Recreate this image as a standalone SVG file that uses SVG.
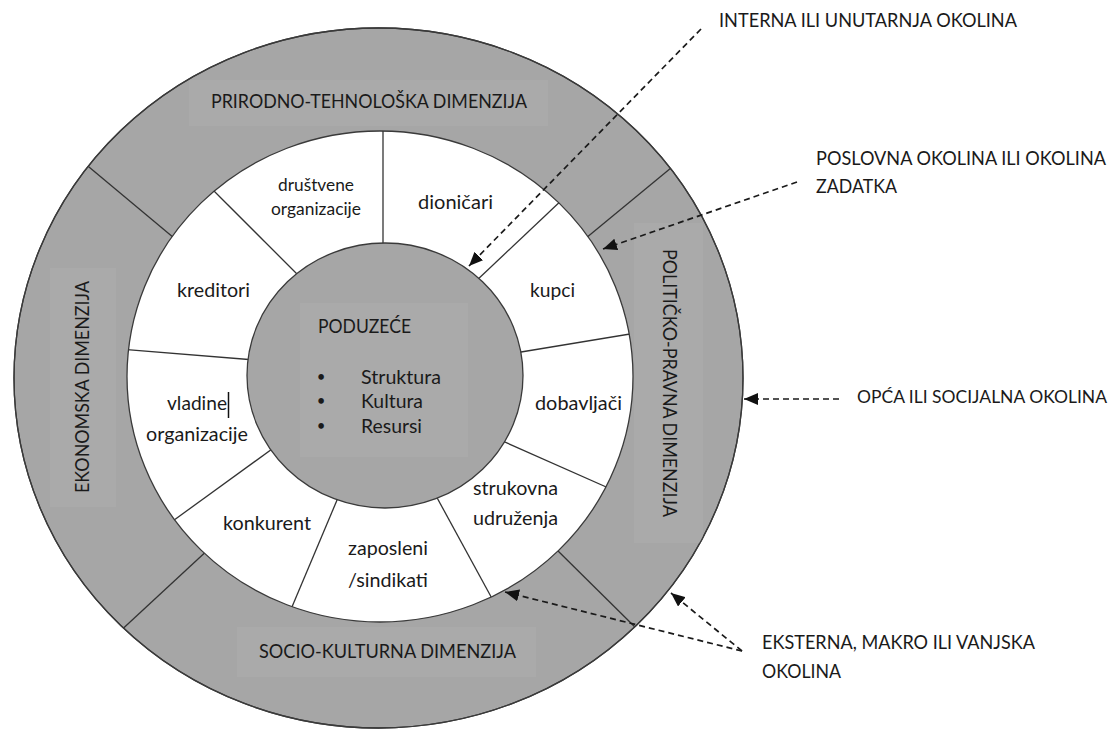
<svg xmlns="http://www.w3.org/2000/svg" width="1119" height="729" viewBox="0 0 1119 729">
<style>
.ring{fill:#a6a6a6;stroke:#3a3a3a;stroke-width:1.3}
.white{fill:#ffffff;stroke:#3a3a3a;stroke-width:1.3}
.lbl{fill:#aaaaaa}
.div{stroke:#333;stroke-width:1.3;fill:none}
text{font-family:Lato,"Liberation Sans",sans-serif;font-size:19px;fill:#1a1a1a}
.sm{font-size:16.6px}
.bul{font-size:15px}
.arr{stroke:#1a1a1a;stroke-width:1.7;stroke-dasharray:6 4;fill:none;marker-end:url(#ah)}
</style>
<defs>
<marker id="ah" markerUnits="userSpaceOnUse" markerWidth="15" markerHeight="12" refX="14" refY="6" orient="auto">
<path d="M0,0 L14,6 L0,12 z" fill="#111"/>
</marker>
<clipPath id="outerClip"><ellipse cx="378.5" cy="378" rx="364.5" ry="350"/></clipPath>
<clipPath id="whiteClip"><ellipse cx="380" cy="376.5" rx="253" ry="245.5"/></clipPath>
</defs>

<g id="outer-ring">
<ellipse class="ring" cx="378.5" cy="378" rx="364.5" ry="350"/>
<g clip-path="url(#outerClip)">
<rect class="lbl" x="189" y="80" width="359" height="46"/>
<rect class="lbl" x="50" y="268" width="66" height="239"/>
<rect class="lbl" x="634" y="223" width="69" height="320"/>
<rect class="lbl" x="237" y="627" width="299" height="50"/>
<g class="div">
<line x1="83" y1="162" x2="180" y2="243"/>
<line x1="677" y1="163" x2="580" y2="243"/>
<line x1="116" y1="635" x2="211" y2="547"/>
<line x1="642" y1="634" x2="553" y2="546"/>
</g>
</g>
<ellipse cx="378.5" cy="378" rx="364.5" ry="350" fill="none" stroke="#3a3a3a" stroke-width="1.3"/>
</g>

<g id="dim-prirodno"><text x="211" y="108" textLength="316" lengthAdjust="spacingAndGlyphs">PRIRODNO-TEHNOLOŠKA DIMENZIJA</text></g>
<g id="dim-ekonomska"><text transform="translate(89,493) rotate(-90)" x="0" y="0" textLength="212" lengthAdjust="spacingAndGlyphs">EKONOMSKA DIMENZIJA</text></g>
<g id="dim-politicko"><text transform="translate(663,249) rotate(90)" x="0" y="0" textLength="268" lengthAdjust="spacingAndGlyphs">POLITIČKO-PRAVNA DIMENZIJA</text></g>
<g id="dim-socio"><text x="259" y="658" textLength="257" lengthAdjust="spacingAndGlyphs">SOCIO-KULTURNA DIMENZIJA</text></g>

<g id="business-ring">
<ellipse class="white" cx="380" cy="376.5" rx="253" ry="245.5"/>
<g class="div" clip-path="url(#whiteClip)">
<line x1="383" y1="125" x2="383" y2="250"/>
<line x1="211" y1="188" x2="301" y2="278"/>
<line x1="120" y1="349" x2="255" y2="360"/>
<line x1="170" y1="523" x2="279" y2="444"/>
<line x1="289" y1="614" x2="340" y2="493"/>
<line x1="435" y1="494" x2="495" y2="604"/>
<line x1="498" y1="439" x2="613" y2="490"/>
<line x1="515" y1="353" x2="636" y2="333"/>
<line x1="475" y1="282" x2="565" y2="197"/>
</g>
</g>

<g id="seg-drustvene"><text class="sm" x="278" y="191" textLength="76" lengthAdjust="spacingAndGlyphs">društvene</text><text class="sm" x="271" y="215" textLength="90" lengthAdjust="spacingAndGlyphs">organizacije</text></g>
<g id="seg-dionicari"><text x="418" y="209" textLength="75" lengthAdjust="spacingAndGlyphs">dioničari</text></g>
<g id="seg-kreditori"><text x="177" y="297" textLength="73" lengthAdjust="spacingAndGlyphs">kreditori</text></g>
<g id="seg-kupci"><text x="530" y="297" textLength="45" lengthAdjust="spacingAndGlyphs">kupci</text></g>
<g id="seg-vladine"><text x="167" y="410" textLength="60" lengthAdjust="spacingAndGlyphs">vladine</text><line x1="228.5" y1="392" x2="228.5" y2="418" stroke="#111" stroke-width="1.5"/><text x="146" y="441" textLength="102" lengthAdjust="spacingAndGlyphs">organizacije</text></g>
<g id="seg-dobavljaci"><text x="535" y="410" textLength="87" lengthAdjust="spacingAndGlyphs">dobavljači</text></g>
<g id="seg-strukovna"><text x="473" y="495" textLength="85" lengthAdjust="spacingAndGlyphs">strukovna</text><text x="473" y="525" textLength="85" lengthAdjust="spacingAndGlyphs">udruženja</text></g>
<g id="seg-konkurent"><text x="223" y="530" textLength="88" lengthAdjust="spacingAndGlyphs">konkurent</text></g>
<g id="seg-zaposleni"><text x="348" y="555" textLength="80" lengthAdjust="spacingAndGlyphs">zaposleni</text><text x="348" y="587" textLength="80" lengthAdjust="spacingAndGlyphs">/sindikati</text></g>

<g id="poduzece">
<ellipse class="ring" cx="385" cy="375.5" rx="138" ry="132.5"/>
<rect class="lbl" x="300" y="303" width="168" height="154"/>
<text x="318" y="333" textLength="93" lengthAdjust="spacingAndGlyphs">PODUZEĆE</text>
<text class="bul" x="321" y="382" text-anchor="middle">•</text>
<text class="bul" x="321" y="406" text-anchor="middle">•</text>
<text class="bul" x="321" y="431" text-anchor="middle">•</text>
<text x="361" y="384" textLength="80" lengthAdjust="spacingAndGlyphs">Struktura</text>
<text x="361" y="408" textLength="62" lengthAdjust="spacingAndGlyphs">Kultura</text>
<text x="361" y="433" textLength="61" lengthAdjust="spacingAndGlyphs">Resursi</text>
</g>

<g id="ann-interna"><text x="719" y="27" textLength="298" lengthAdjust="spacingAndGlyphs">INTERNA ILI UNUTARNJA OKOLINA</text></g>
<g id="ann-poslovna"><text x="816" y="165" textLength="290" lengthAdjust="spacingAndGlyphs">POSLOVNA OKOLINA ILI OKOLINA</text><text x="816" y="193" textLength="81" lengthAdjust="spacingAndGlyphs">ZADATKA</text></g>
<g id="ann-opca"><text x="857" y="403" font-size="17.5" style="font-size:17.5px" textLength="250" lengthAdjust="spacingAndGlyphs">OPĆA ILI SOCIJALNA OKOLINA</text></g>
<g id="ann-eksterna"><text x="762" y="649" textLength="273" lengthAdjust="spacingAndGlyphs">EKSTERNA, MAKRO ILI VANJSKA</text><text x="762" y="678" textLength="79" lengthAdjust="spacingAndGlyphs">OKOLINA</text></g>

<g id="connectors">
<path class="arr" d="M701,29 L469,266"/>
<path class="arr" d="M797,182 L603,249"/>
<path class="arr" d="M839,399 L744,399"/>
<path class="arr" d="M742,651 L671,593"/>
<path class="arr" d="M742,651 L505,592"/>
</g>
</svg>
